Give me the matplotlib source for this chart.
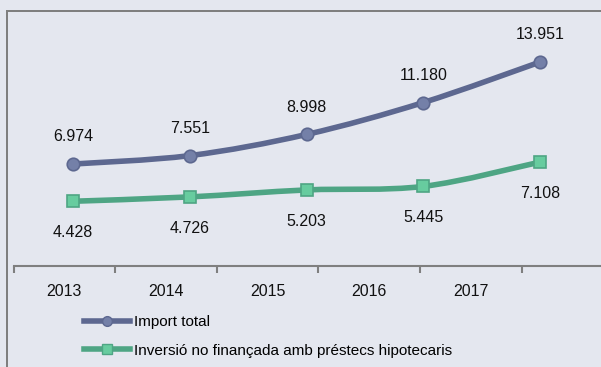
import numpy as np
import matplotlib.pyplot as plt
from matplotlib.path import Path
from matplotlib.patches import PathPatch
from matplotlib.lines import Line2D

years = ["2013", "2014", "2015", "2016", "2017"]
import_total = [6974, 7551, 8998, 11180, 13951]
no_financada = [4428, 4726, 5203, 5445, 7108]
labels_total = ["6.974", "7.551", "8.998", "11.180", "13.951"]
labels_nofin = ["4.428", "4.726", "5.203", "5.445", "7.108"]

bg = "#e4e7ef"
frame_col = "#7f7f7f"
blue_line, blue_fill = "#5d6890", "#7480a8"
green_line, green_fill = "#4ea584", "#67cc9f"

plt.rcParams["font.family"] = ["Liberation Sans", "DejaVu Sans"]

W, H = 601, 367
fig = plt.figure(figsize=(W / 100, H / 100), dpi=100, facecolor=bg)


def px_axes(x0, y0, x1, y1):
    # axes placed by pixel box (top-left origin)
    return fig.add_axes([x0 / W, 1 - y1 / H, (x1 - x0) / W, (y1 - y0) / H])


# outer chart frame: left and top edges, 2 px wide
fig.add_artist(Line2D([7 / W, 7 / W], [0, 1 - 10 / H], transform=fig.transFigure,
                      color=frame_col, lw=1.44, solid_capstyle="butt"))
fig.add_artist(Line2D([6 / W, 1.0], [1 - 11 / H, 1 - 11 / H], transform=fig.transFigure,
                      color=frame_col, lw=1.44, solid_capstyle="butt"))

# category axis
cax = px_axes(13.5, 20, 601, 266)
cax.set_facecolor("none")
cax.set_xlim(0, (601 - 13.5) / 101.6)
cax.set_ylim(0, 1)
cax.set_xticks(range(6))
cax.set_xticklabels([])
cax.set_yticks([])
cax.tick_params(axis="x", length=5, width=1.5, color=frame_col, direction="out")
for s in ["top", "right", "left"]:
    cax.spines[s].set_visible(False)
cax.spines["bottom"].set_color(frame_col)
cax.spines["bottom"].set_linewidth(1.5)
for i, yr in enumerate(years):
    cax.annotate(yr, (i + 0.5, 0), xytext=(0, -18.5), textcoords="offset points",
                 ha="center", va="center", fontsize=11.5, color="#111111")

# line series axes
ax = px_axes(14.6, 11, 598.4, 266)
ax.set_facecolor("none")
ax.set_xlim(-0.5, 4.5)
ax.set_ylim(0, 255 / 0.01462)
ax.axis("off")


def smooth_path(xs, ys):
    pts = np.column_stack([xs, ys]).astype(float)
    n = len(pts)
    verts = [pts[0]]
    codes = [Path.MOVETO]
    for i in range(n - 1):
        p0 = pts[max(i - 1, 0)]
        p1, p2 = pts[i], pts[i + 1]
        p3 = pts[min(i + 2, n - 1)]
        verts += [p1 + (p2 - p0) / 6, p2 - (p3 - p1) / 6, p2]
        codes += [Path.CURVE4] * 3
    return Path(verts, codes)


x = np.arange(len(years))
series = [
    (import_total, labels_total, blue_line, blue_fill, "o", 9, 19.5),
    (no_financada, labels_nofin, green_line, green_fill, "s", 8.5, -22.5),
]
for vals, labs, lc, fc, mk, ms, off in series:
    ax.add_patch(PathPatch(smooth_path(x, vals), fill=False, edgecolor=lc,
                           lw=4, capstyle="round", zorder=2))
    ax.plot(x, vals, ls="none", marker=mk, ms=ms, mfc=fc, mec=lc, mew=1.2, zorder=3)
    for xi, v, t in zip(x, vals, labs):
        ax.annotate(t, (xi, v), xytext=(0, off), textcoords="offset points",
                    ha="center", va="center", fontsize=11.5, color="#111111")

handles = [
    Line2D([], [], color=blue_line, lw=4, marker="o", ms=7, mfc=blue_fill, mec=blue_line),
    Line2D([], [], color=green_line, lw=4, marker="s", ms=6.5, mfc=green_fill, mec=green_line),
]
fig.legend(handles, ["Import total", "Inversió no finançada amb préstecs hipotecaris"],
           loc="upper left", bbox_to_anchor=(84 / W, 1 - 315 / H), frameon=False,
           fontsize=11, handlelength=3.0, handletextpad=0.25, labelspacing=0.95,
           borderpad=0, borderaxespad=0)

fig.savefig("out.png", dpi=100, facecolor=bg)
